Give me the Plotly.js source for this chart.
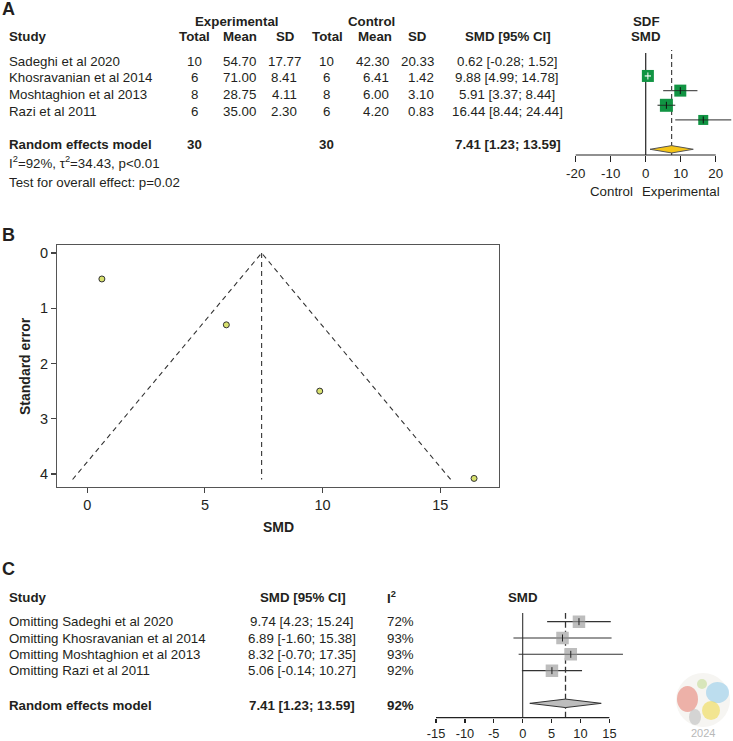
<!DOCTYPE html>
<html>
<head>
<meta charset="utf-8">
<script src="https://cdn.plot.ly/plotly-3.0.1.min.js"></script>
<style>html,body{margin:0;padding:0;background:#fff;}#chart{width:733px;height:741px;}</style>
</head>
<body>
<div id="chart"></div>
<script>
// ---------------- DATA ----------------
const studies = ["Sadeghi et al 2020", "Khosravanian et al 2014", "Moshtaghion et al 2013", "Razi et al 2011"];
const expTotal = [10, 6, 8, 6];
const expMean = ["54.70", "71.00", "28.75", "35.00"];
const expSD = ["17.77", "8.41", "4.11", "2.30"];
const ctlTotal = [10, 6, 8, 6];
const ctlMean = ["42.30", "6.41", "6.00", "4.20"];
const ctlSD = ["20.33", "1.42", "3.10", "0.83"];
const smd = [0.62, 9.88, 5.91, 16.44];
const smdLo = [-0.28, 4.99, 3.37, 8.44];
const smdHi = [1.52, 14.78, 8.44, 24.44];
const pooled = 7.41, pooledLo = 1.23, pooledHi = 13.59;
const totalExp = 30, totalCtl = 30;
const i2 = 92, tau2 = 34.43, pHet = "p&lt;0.01", pOverall = "p=0.02";
const stdErr = [0.47, 2.50, 1.30, 4.08];   // funnel plot y values
const omitLabels = ["Omitting Sadeghi et al 2020", "Omitting Khosravanian et al 2014", "Omitting Moshtaghion et al 2013", "Omitting Razi et al 2011"];
const omitSMD = [9.74, 6.89, 8.32, 5.06];
const omitLo = [4.23, -1.60, -0.70, -0.14];
const omitHi = [15.24, 15.38, 17.35, 10.27];
const omitI2 = [72, 93, 93, 92];
const ticksA = [-20, -10, 0, 10, 20];
const ticksB_x = [0, 5, 10, 15];
const ticksB_y = [0, 1, 2, 3, 4];
const ticksC = [-15, -10, -5, 0, 5, 10, 15];

// ---------------- HELPERS ----------------
const W = 733, H = 741;
const FONT = "Liberation Sans, Arial, Helvetica, sans-serif";
const TXT = "#231f20";
const px = p => p / W;
const py = p => 1 - p / H;
const f2 = v => v.toFixed(2);
const ci = (e, l, h) => f2(e) + " [" + f2(l) + "; " + f2(h) + "]";
const ann = [];
function T(text, x, y, o) {
  o = o || {};
  ann.push({
    text: o.bold ? "<b>" + text + "</b>" : text,
    x: px(x), y: py(y), xref: "paper", yref: "paper",
    xanchor: o.anchor || "left", yanchor: "middle", showarrow: false,
    textangle: o.angle || 0,
    font: { family: FONT, size: o.size || 13.3, color: o.color || TXT }
  });
}

// ---------------- PANEL A TEXT ----------------
T("A", 0, 9, { bold: true, size: 18 });
T("Experimental", 237, 21, { bold: true, anchor: "center" });
T("Control", 371, 21, { bold: true, anchor: "center" });
T("Study", 7, 36, { bold: true });
T("Total", 194, 36, { bold: true, anchor: "center" });
T("Mean", 239.7, 36, { bold: true, anchor: "center" });
T("SD", 285, 36, { bold: true, anchor: "center" });
T("Total", 327.7, 36, { bold: true, anchor: "center" });
T("Mean", 375, 36, { bold: true, anchor: "center" });
T("SD", 417, 36, { bold: true, anchor: "center" });
T("SMD [95% CI]", 508, 36, { bold: true, anchor: "center" });
T("SDF", 646, 22, { bold: true, anchor: "center" });
T("SMD", 646, 36, { bold: true, anchor: "center" });
const rowA = i => 61 + i * 16.7;
studies.forEach((s, i) => {
  const y = rowA(i);
  T(s, 7, y);
  T(String(expTotal[i]), 194, y, { anchor: "center" });
  T(expMean[i], 239.7, y, { anchor: "center" });
  T(expSD[i], 284, y, { anchor: "center" });
  T(String(ctlTotal[i]), 326.5, y, { anchor: "center" });
  T(ctlMean[i], 390.7, y, { anchor: "right" });
  T(ctlSD[i], 436, y, { anchor: "right" });
  T(ci(smd[i], smdLo[i], smdHi[i]), 507, y, { anchor: "center" });
});
T("Random effects model", 7, 144, { bold: true });
T(String(totalExp), 194, 144, { bold: true, anchor: "center" });
T(String(totalCtl), 326.5, 144, { bold: true, anchor: "center" });
T(ci(pooled, pooledLo, pooledHi), 508, 144, { bold: true, anchor: "center" });
T("I<sup>2</sup>=" + i2 + "%, τ<sup>2</sup>=" + tau2.toFixed(2) + ", " + pHet, 7, 163);
T("Test for overall effect: " + pOverall, 7, 182);
T("Control", 611, 191, { anchor: "center" });
T("Experimental", 681, 191, { anchor: "center" });

// ---------------- PANEL B TEXT ----------------
T("B", 0, 235, { bold: true, size: 18 });
T("Standard error", 25, 366, { bold: true, size: 14, anchor: "center", angle: -90 });
T("SMD", 278, 527, { bold: true, size: 14, anchor: "center" });

// ---------------- PANEL C TEXT ----------------
T("C", 0, 569, { bold: true, size: 18 });
T("Study", 7, 597, { bold: true });
T("SMD [95% CI]", 303, 597, { bold: true, anchor: "center" });
T("I<sup>2</sup>", 385, 597, { bold: true });
T("SMD", 523, 597, { bold: true, anchor: "center" });
const rowC = i => 621.7 + i * 16.33;
omitLabels.forEach((s, i) => {
  const y = rowC(i);
  T(s, 7, y);
  T(ci(omitSMD[i], omitLo[i], omitHi[i]), 302, y, { anchor: "center" });
  T(omitI2[i] + "%", 385, y);
});
T("Random effects model", 7, 705, { bold: true });
T(ci(pooled, pooledLo, pooledHi), 302, 705, { bold: true, anchor: "center" });
T(i2 + "%", 385, 705, { bold: true });
// logo caption
T("2024", 703, 733, { anchor: "center", size: 11, color: "#b8b8b8" });

// ---------------- TRACES ----------------
const traces = [];
function segs(lo, hi, rows) {
  const x = [], y = [];
  lo.forEach((l, i) => { x.push(l, hi[i], null); y.push(rows[i], rows[i], null); });
  return { x, y };
}
// Panel A forest (rows 1..4, pooled at row 6)
const rowsA = studies.map((_, i) => i + 1);
const sizesA = [12, 12, 13, 10];
const pxPerUnitA = 3.5;
const insideBox = smd.map((v, i) => (smdHi[i] - smdLo[i]) * pxPerUnitA < sizesA[i]);
let s = segs(smdLo, smdHi, rowsA);
traces.push({ type: "scatter", mode: "lines", x: s.x, y: s.y, xaxis: "x", yaxis: "y",
  line: { color: "#555", width: 1.3 }, hoverinfo: "skip" });
traces.push({ type: "scatter", mode: "markers", x: smd, y: rowsA, xaxis: "x", yaxis: "y",
  marker: { symbol: "square", size: sizesA, color: "#119443", opacity: 1, line: { width: 0 } } });
// white CI inside boxes that contain the whole interval
const inLo = [], inHi = [], inRow = [];
smd.forEach((v, i) => { if (insideBox[i]) { inLo.push(smdLo[i]); inHi.push(smdHi[i]); inRow.push(rowsA[i]); } });
s = segs(inLo, inHi, inRow);
traces.push({ type: "scatter", mode: "lines", x: s.x, y: s.y, xaxis: "x", yaxis: "y",
  line: { color: "#ffffff", width: 1.2 } });
// grey CI line visible through the box
const outLo = [], outHi = [], outRow = [];
smd.forEach((v, i) => { if (!insideBox[i]) { outLo.push(Math.max(smdLo[i], v - sizesA[i] / 2 / pxPerUnitA)); outHi.push(Math.min(smdHi[i], v + sizesA[i] / 2 / pxPerUnitA)); outRow.push(rowsA[i]); } });
s = segs(outLo, outHi, outRow);
traces.push({ type: "scatter", mode: "lines", x: s.x, y: s.y, xaxis: "x", yaxis: "y",
  line: { color: "#1f3a27", width: 1 } });
traces.push({ type: "scatter", mode: "markers", x: smd, y: rowsA, xaxis: "x", yaxis: "y",
  marker: { symbol: "line-ns", size: 5, opacity: 1, line: { width: 1,
    color: insideBox.map(b => b ? "#ffffff" : "#111") } } });
const dA = 0.25, rowPoolA = 6;
traces.push({ type: "scatter", mode: "lines", fill: "toself", fillcolor: "#f5c518",
  x: [pooledLo, pooled, pooledHi, pooled, pooledLo], y: [rowPoolA, rowPoolA - dA, rowPoolA, rowPoolA + dA, rowPoolA],
  xaxis: "x", yaxis: "y", line: { color: "#555", width: 1 } });

// Panel B funnel
const seMax = Math.max(...stdErr) + 0.02;
traces.push({ type: "scatter", mode: "lines", xaxis: "x2", yaxis: "y2",
  x: [pooled - 1.96 * seMax, pooled, pooled + 1.96 * seMax], y: [seMax, 0, seMax],
  line: { color: "#333", width: 1.1, dash: "5px,4px" } });
traces.push({ type: "scatter", mode: "lines", xaxis: "x2", yaxis: "y2",
  x: [pooled, pooled], y: [0, seMax], line: { color: "#333", width: 1.1, dash: "5px,4px" } });
traces.push({ type: "scatter", mode: "markers", xaxis: "x2", yaxis: "y2", x: smd, y: stdErr,
  marker: { symbol: "circle", size: 6, color: "#d8e16e", opacity: 1, line: { color: "#333", width: 1 } } });

// Panel C leave-one-out forest (rows 0..3, pooled at row 5)
const rowsC = omitLabels.map((_, i) => i);
s = segs(omitLo, omitHi, rowsC);
traces.push({ type: "scatter", mode: "lines", x: s.x, y: s.y, xaxis: "x3", yaxis: "y3",
  line: { color: "#333", width: 1.1 } });
traces.push({ type: "scatter", mode: "markers", x: omitSMD, y: rowsC, xaxis: "x3", yaxis: "y3",
  marker: { symbol: "square", size: 12.5, color: "#bdbdbd", opacity: 1, line: { width: 0 } } });
s = segs(omitSMD.map(v => v - 6.25 / 5.78), omitSMD.map(v => v + 6.25 / 5.78), rowsC);
traces.push({ type: "scatter", mode: "lines", x: s.x, y: s.y, xaxis: "x3", yaxis: "y3",
  line: { color: "#555", width: 0.8 } });
traces.push({ type: "scatter", mode: "markers", x: omitSMD, y: rowsC, xaxis: "x3", yaxis: "y3",
  marker: { symbol: "line-ns", size: 5, opacity: 1, line: { width: 1, color: "#222" } } });
const dC = 0.26, rowPoolC = 5;
traces.push({ type: "scatter", mode: "lines", fill: "toself", fillcolor: "#bdbdbd",
  x: [pooledLo, pooled, pooledHi, pooled, pooledLo], y: [rowPoolC, rowPoolC - dC, rowPoolC, rowPoolC + dC, rowPoolC],
  xaxis: "x3", yaxis: "y3", line: { color: "#333", width: 1 } });

// ---------------- SHAPES ----------------
const shapes = [
  // Panel A
  { type: "line", xref: "x", yref: "y", x0: 0, x1: 0, y0: -0.57, y1: 6.39, line: { color: "#222", width: 1.2 }, layer: "below" },
  { type: "line", xref: "x", yref: "y domain", x0: pooled, x1: pooled, y0: 0, y1: 1, line: { color: "#333", width: 1.1, dash: "5px,3px" }, layer: "below" },
  { type: "line", xref: "x", yref: "y domain", x0: ticksA[0], x1: ticksA[ticksA.length - 1], y0: 0, y1: 0, line: { color: "#222", width: 1.2 } },
  // Panel C
  { type: "line", xref: "x3", yref: "y3 domain", x0: 0, x1: 0, y0: 0, y1: 1, line: { color: "#333", width: 1.1 }, layer: "below" },
  { type: "line", xref: "x3", yref: "y3 domain", x0: pooled, x1: pooled, y0: 0, y1: 1, line: { color: "#333", width: 1.3, dash: "6px,3px" }, layer: "below" },
  { type: "line", xref: "x3", yref: "y3 domain", x0: ticksC[0], x1: ticksC[ticksC.length - 1], y0: 0, y1: 0, line: { color: "#222", width: 1.2 } },
  // faint logo
  { type: "circle", xref: "paper", yref: "paper", x0: px(676), x1: px(730), y0: py(727), y1: py(673), fillcolor: "#f6f5f2", line: { width: 0 }, layer: "below" },
  { type: "circle", xref: "paper", yref: "paper", x0: px(677), x1: px(698), y0: py(712), y1: py(686), fillcolor: "rgba(229,120,108,0.55)", line: { width: 0 } },
  { type: "circle", xref: "paper", yref: "paper", x0: px(697), x1: px(707), y0: py(689), y1: py(679), fillcolor: "rgba(196,220,150,0.6)", line: { width: 0 } },
  { type: "circle", xref: "paper", yref: "paper", x0: px(706), x1: px(729), y0: py(703), y1: py(682), fillcolor: "rgba(150,205,235,0.6)", line: { width: 0 } },
  { type: "circle", xref: "paper", yref: "paper", x0: px(702), x1: px(720), y0: py(720), y1: py(701), fillcolor: "rgba(240,218,80,0.6)", line: { width: 0 } },
  { type: "circle", xref: "paper", yref: "paper", x0: px(689), x1: px(701), y0: py(725), y1: py(709), fillcolor: "rgba(190,190,190,0.6)", line: { width: 0 } }
];

// ---------------- LAYOUT ----------------
const layout = {
  width: W, height: H,
  margin: { l: 0, r: 0, t: 0, b: 0 },
  paper_bgcolor: "#ffffff", plot_bgcolor: "rgba(0,0,0,0)",
  showlegend: false, hovermode: false,
  font: { family: FONT, color: TXT },
  // Panel A forest
  xaxis: { domain: [px(560), px(733)], range: [-24.49, 24.94], anchor: "y",
    tickmode: "array", tickvals: ticksA, ticktext: ticksA.map(String), ticks: "outside", ticklen: 6, tickwidth: 1.2, tickcolor: "#222",
    showline: false, showgrid: false, zeroline: false, tickfont: { family: FONT, size: 13.3, color: TXT } },
  yaxis: { domain: [py(155), py(50)], range: [6.39, -0.77], visible: false, anchor: "x" },
  // Panel B funnel
  xaxis2: { domain: [px(57.3), px(499)], range: [-1.275, 17.5], anchor: "y2",
    tickmode: "array", tickvals: ticksB_x, ticks: "outside", ticklen: 5, tickwidth: 1.1, tickcolor: "#444",
    showline: true, mirror: true, linecolor: "#555", linewidth: 1.2, showgrid: false, zeroline: false,
    tickfont: { family: FONT, size: 14.5, color: TXT } },
  yaxis2: { domain: [py(486.7), py(245)], range: [4.23, -0.145], anchor: "x2",
    tickmode: "array", tickvals: ticksB_y, ticks: "outside", ticklen: 5, tickwidth: 1.1, tickcolor: "#444",
    showline: true, mirror: true, linecolor: "#555", linewidth: 1.2, showgrid: false, zeroline: false,
    tickfont: { family: FONT, size: 14.5, color: TXT } },
  // Panel C forest
  xaxis3: { domain: [px(436), px(640)], range: [-15, 20.3], anchor: "y3",
    tickmode: "array", tickvals: ticksC, ticktext: ticksC.map(String), ticks: "outside", ticklen: 4, tickwidth: 1.2, tickcolor: "#222",
    showline: false, showgrid: false, zeroline: false, tickfont: { family: FONT, size: 12.8, color: TXT } },
  yaxis3: { domain: [py(717.7), py(613)], range: [5.88, -0.53], visible: false, anchor: "x3" },
  annotations: ann,
  shapes: shapes
};

Plotly.newPlot("chart", traces, layout, { displayModeBar: false, staticPlot: true });
</script>
</body>
</html>
